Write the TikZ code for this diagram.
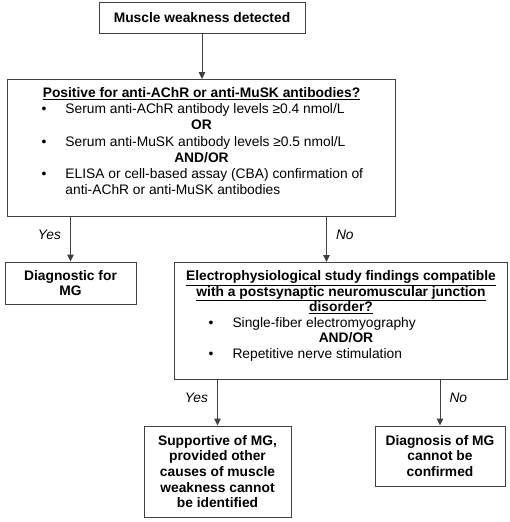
\documentclass[tikz,border=0pt]{standalone}
\usepackage{fontspec}
\setmainfont{Liberation Sans}
\usetikzlibrary{arrows.meta}

\definecolor{linegray}{HTML}{404040}
\newcommand{\itemline}[1]{\makebox[\linewidth][l]{\hspace*{30pt}\makebox[24pt][l]{\textbullet}#1}}
\newcommand{\moreline}[1]{\makebox[\linewidth][l]{\hspace*{54pt}#1}}
\newcommand{\midline}[1]{\makebox[\linewidth][c]{#1}}

\tikzset{
  box/.style={draw=linegray, line width=1pt, inner sep=4pt, align=center, font=\fontsize{13.8}{15.6}\selectfont},
  flow/.style={draw=linegray, line width=1pt, -{Triangle[length=7pt,width=6.5pt]}},
  answer/.style={font=\fontsize{13.8}{15.6}\selectfont\itshape, inner sep=1pt},
}

\begin{document}
\begin{tikzpicture}[x=1pt, y=-1pt]
\useasboundingbox (0,0) rectangle (510,522);

\node[box, minimum width=206, minimum height=31] (weak) at (202,17.5) {\textbf{Muscle weakness detected}};

\node[box, anchor=north west] (abtest) at (7,79) {\parbox[t][129pt][t]{380pt}{\fontsize{13.8}{16.2}\selectfont\vspace*{4pt}%
\midline{\underline{\textbf{Positive for anti-AChR or anti-MuSK antibodies?}}}\par
\itemline{Serum anti-AChR antibody levels ≥0.4 nmol/L}\par
\midline{\textbf{OR}}\par
\itemline{Serum anti-MuSK antibody levels ≥0.5 nmol/L}\par
\midline{\textbf{AND/OR}}\par
\itemline{ELISA or cell-based assay (CBA) confirmation of}\par
\moreline{anti-AChR or anti-MuSK antibodies}}};

\node[box, minimum width=131, minimum height=42] (diag) at (70.5,283) {\textbf{Diagnostic for}\\\textbf{MG}};

\node[box, anchor=north west] (ephys) at (174,262) {\parbox[t][109pt][t]{325pt}{\vspace*{4pt}%
\midline{\underline{\textbf{Electrophysiological study findings compatible}}}\par
\midline{\underline{\textbf{with a postsynaptic neuromuscular junction}}}\par
\midline{\underline{\textbf{disorder?}}}\par
\itemline{Single-fiber electromyography}\par
\midline{\hspace*{10pt}\textbf{AND/OR}}\par
\itemline{Repetitive nerve stimulation}}};

\node[box, minimum width=147, minimum height=91] (supp) at (217.5,471.5) {\textbf{Supportive of MG,}\\\textbf{provided other}\\\textbf{causes of muscle}\\\textbf{weakness cannot}\\\textbf{be identified}};

\node[box, minimum width=130, minimum height=60] (nodx) at (440,456) {\textbf{Diagnosis of MG}\\\textbf{cannot be}\\\textbf{confirmed}};

\draw[flow] (weak) -- (weak |- abtest.north);
\draw[flow] (diag |- abtest.south) -- node[answer, pos=.4, left=8pt] {Yes} (diag);
\draw[flow] ([xshift=-14.5pt]ephys.north |- abtest.south) -- node[answer, pos=.4, right=8pt] {No} ([xshift=-14.5pt]ephys.north);
\draw[flow] (supp |- ephys.south) -- node[answer, pos=.4, left=8pt] {Yes} (supp);
\draw[flow] (nodx |- ephys.south) -- node[answer, pos=.4, right=8pt] {No} (nodx);

\end{tikzpicture}
\end{document}
